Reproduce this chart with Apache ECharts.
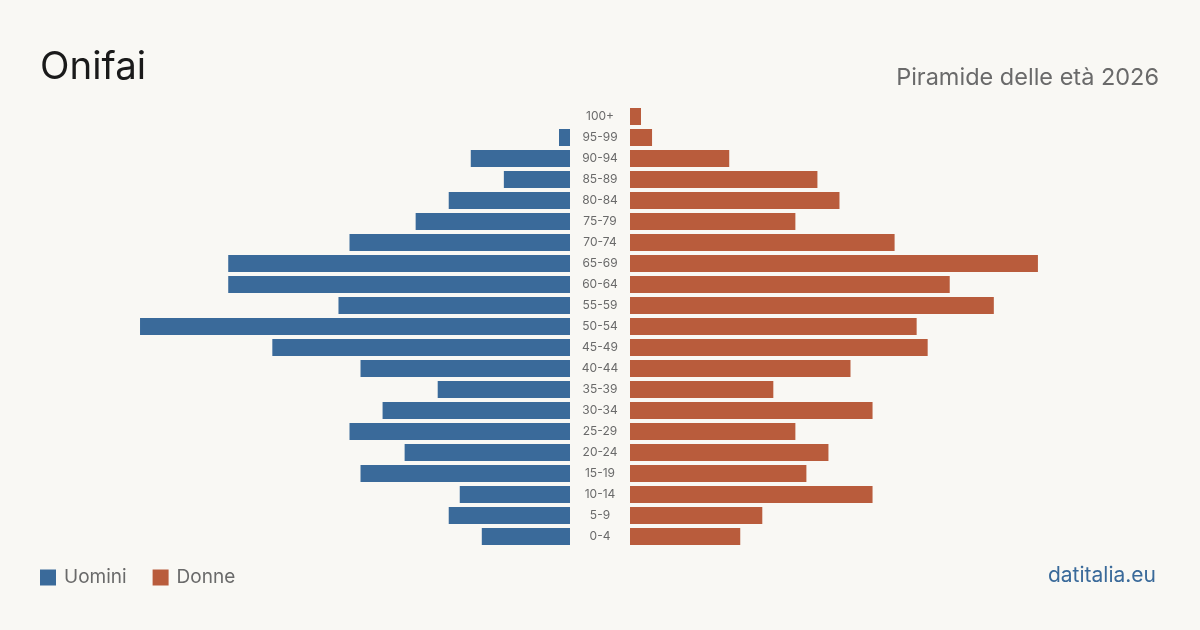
<!DOCTYPE html>
<html>
<head>
<meta charset="utf-8">
<script src="https://cdn.jsdelivr.net/npm/echarts@6/dist/echarts.min.js"></script>
<style>
  html, body { margin: 0; padding: 0; background: #f9f8f4; }
  #chart { width: 1200px; height: 630px; }
</style>
</head>
<body>
<div id="chart"></div>
<script>
// age classes, bottom to top
const ages = ['0-4', '5-9', '10-14', '15-19', '20-24', '25-29', '30-34', '35-39', '40-44', '45-49',
  '50-54', '55-59', '60-64', '65-69', '70-74', '75-79', '80-84', '85-89', '90-94', '95-99', '100+'];
const uomini = [8, 11, 10, 19, 15, 20, 17, 12, 19, 27, 39, 21, 31, 31, 20, 14, 11, 6, 9, 1, 0];
const donne = [10, 12, 22, 16, 18, 15, 22, 13, 20, 27, 26, 33, 29, 37, 24, 15, 19, 17, 9, 2, 1];

const BLUE = '#3a6a9a';
const RED = '#b95c3c';
const font = 'Inter, "Noto Sans", sans-serif';

const chart = echarts.init(document.getElementById('chart'));
chart.setOption({
  backgroundColor: '#f9f8f4',
  animation: false,
  textStyle: { fontFamily: font },
  title: [{
    text: 'Onifai',
    left: 40, top: 48, padding: 0,
    textStyle: { fontSize: 38.5, fontWeight: 'normal', color: '#1a1a1a', fontFamily: font }
  }, {
    text: 'Piramide delle età 2026',
    right: 41, top: 66, padding: 0,
    textStyle: { fontSize: 23.5, fontWeight: 'normal', color: '#6a6a6a', fontFamily: font }
  }, {
    text: 'datitalia.eu',
    right: 44, top: 565, padding: 0,
    textStyle: { fontSize: 21, fontWeight: 'normal', color: BLUE, fontFamily: font }
  }],
  legend: {
    left: 40, top: 568, padding: 0,
    icon: 'rect',
    itemWidth: 16, itemHeight: 16,
    itemGap: 26,
    textStyle: { fontSize: 19, color: '#6a6a6a', fontFamily: font, padding: [0, 0, 0, 3] },
    data: ['Uomini', 'Donne']
  },
  grid: [
    { left: 129, width: 441, top: 106, height: 441 },
    { left: 630, width: 441, top: 106, height: 441 }
  ],
  xAxis: [
    { gridIndex: 0, type: 'value', min: 0, max: 40, inverse: true, show: false },
    { gridIndex: 1, type: 'value', min: 0, max: 40, show: false }
  ],
  yAxis: [{
    gridIndex: 0, type: 'category', data: ages,
    axisLine: { show: false }, axisTick: { show: false }, axisLabel: { show: false }
  }, {
    gridIndex: 1, type: 'category', data: ages,
    axisLine: { show: false }, axisTick: { show: false },
    axisLabel: { align: 'center', margin: 30, fontSize: 12, color: '#6a6a6a', fontFamily: font, padding: [2, 0, 0, 0] }
  }],
  series: [{
    name: 'Uomini', type: 'bar',
    xAxisIndex: 0, yAxisIndex: 0,
    barWidth: 17, color: BLUE,
    data: uomini
  }, {
    name: 'Donne', type: 'bar',
    xAxisIndex: 1, yAxisIndex: 1,
    barWidth: 17, color: RED,
    data: donne
  }]
});
</script>
</body>
</html>
